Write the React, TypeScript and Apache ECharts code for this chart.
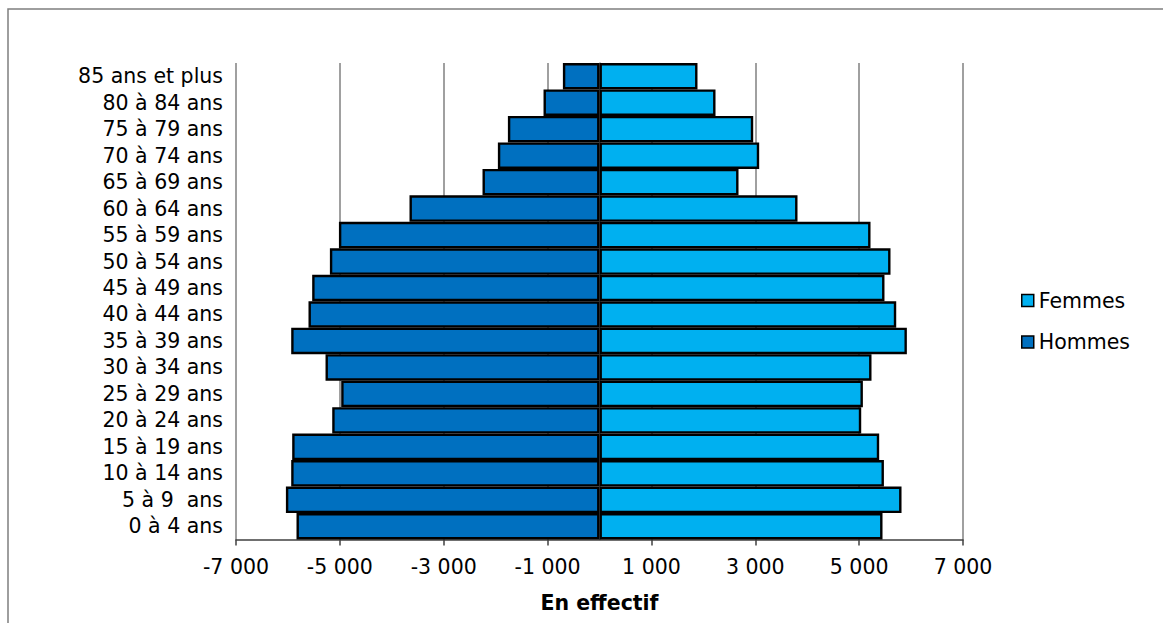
import React, { useEffect, useRef } from "react";
import * as echarts from "echarts";

const categories = [
  "0 à 4 ans", "5 à 9  ans", "10 à 14 ans", "15 à 19 ans", "20 à 24 ans",
  "25 à 29 ans", "30 à 34 ans", "35 à 39 ans", "40 à 44 ans", "45 à 49 ans",
  "50 à 54 ans", "55 à 59 ans", "60 à 64 ans", "65 à 69 ans", "70 à 74 ans",
  "75 à 79 ans", "80 à 84 ans", "85 ans et plus",
];

const hommes = [
  -5835, -6039, -5937, -5918, -5147, -4974, -5276, -5937, -5604, -5533,
  -5192, -5018, -3659, -2253, -1957, -1764, -1078, -705,
];

const femmes = [
  5450, 5816, 5477, 5386, 5040, 5072, 5238, 5919, 5714, 5488,
  5604, 5219, 3813, 2677, 3075, 2960, 2234, 1887,
];

const xTicks = [-7000, -5000, -3000, -1000, 1000, 3000, 5000, 7000];

const FONT = "Verdana, 'DejaVu Sans', sans-serif";
const FS = 20.5;

function fmt(v: number): string {
  const s = String(Math.abs(Math.round(v))).replace(/\B(?=(\d{3})+(?!\d))/g, " ");
  return (v < 0 ? "-" : "") + s;
}

export default function App() {
  const ref = useRef<HTMLDivElement>(null);
  useEffect(() => {
    if (!ref.current) return;
    const chart = echarts.init(ref.current, undefined, { renderer: "svg" });
    chart.setOption({
      animation: false,
      backgroundColor: "#ffffff",
      textStyle: { fontFamily: FONT },
      graphic: [
        {
          type: "rect",
          shape: { x: 8, y: 9, width: 1300, height: 700 },
          style: { fill: "none", stroke: "#7f7f7f", lineWidth: 1.5 },
          silent: true,
        },
      ],
      grid: { left: 236, right: 200, top: 63, bottom: 83.5, containLabel: false },
      legend: {
        orient: "vertical",
        left: 1016,
        top: 285,
        itemWidth: 12,
        itemHeight: 12,
        itemGap: 20.5,
        icon: "rect",
        data: ["Femmes", "Hommes"],
        textStyle: { fontFamily: FONT, fontSize: FS, color: "#000" },
        itemStyle: { borderColor: "#000", borderWidth: 1.5 },
      },
      xAxis: {
        type: "value",
        min: -7000,
        max: 7000,
        interval: 1000,
        name: "En effectif",
        nameLocation: "middle",
        nameGap: 53,
        nameTextStyle: { fontFamily: FONT, fontSize: FS, fontWeight: "bold", color: "#000" },
        axisLine: { show: true, lineStyle: { color: "#404040", width: 1.5 } },
        axisTick: {
          show: true,
          inside: false,
          length: 6,
          customValues: xTicks,
          lineStyle: { color: "#404040", width: 1.5 },
        },
        axisLabel: {
          customValues: xTicks,
          formatter: (v: number) => fmt(v),
          fontFamily: FONT,
          fontSize: FS,
          color: "#000",
          margin: 17,
        },
        splitLine: { show: true, lineStyle: { color: "#808080", width: 1.5 } },
      },
      yAxis: {
        type: "category",
        data: categories,
        axisLine: { show: true, lineStyle: { color: "#808080", width: 1.5 } },
        axisTick: { show: false },
        axisLabel: { interval: 0, fontFamily: FONT, fontSize: FS, color: "#000", margin: 13 },
        splitLine: { show: false },
      },
      series: [
        {
          name: "Hommes",
          type: "bar",
          stack: "total",
          data: hommes,
          barCategoryGap: "0%",
          itemStyle: { color: "#0070C0", borderColor: "#000", borderWidth: 2.4 },
        },
        {
          name: "Femmes",
          type: "bar",
          stack: "total",
          data: femmes,
          barCategoryGap: "0%",
          itemStyle: { color: "#00B0F0", borderColor: "#000", borderWidth: 2.4 },
        },
      ],
    });
    return () => chart.dispose();
  }, []);
  return (
    <div
      ref={ref}
      style={{ position: "fixed", left: 0, top: 0, width: 1163, height: 623 }}
    />
  );
}
